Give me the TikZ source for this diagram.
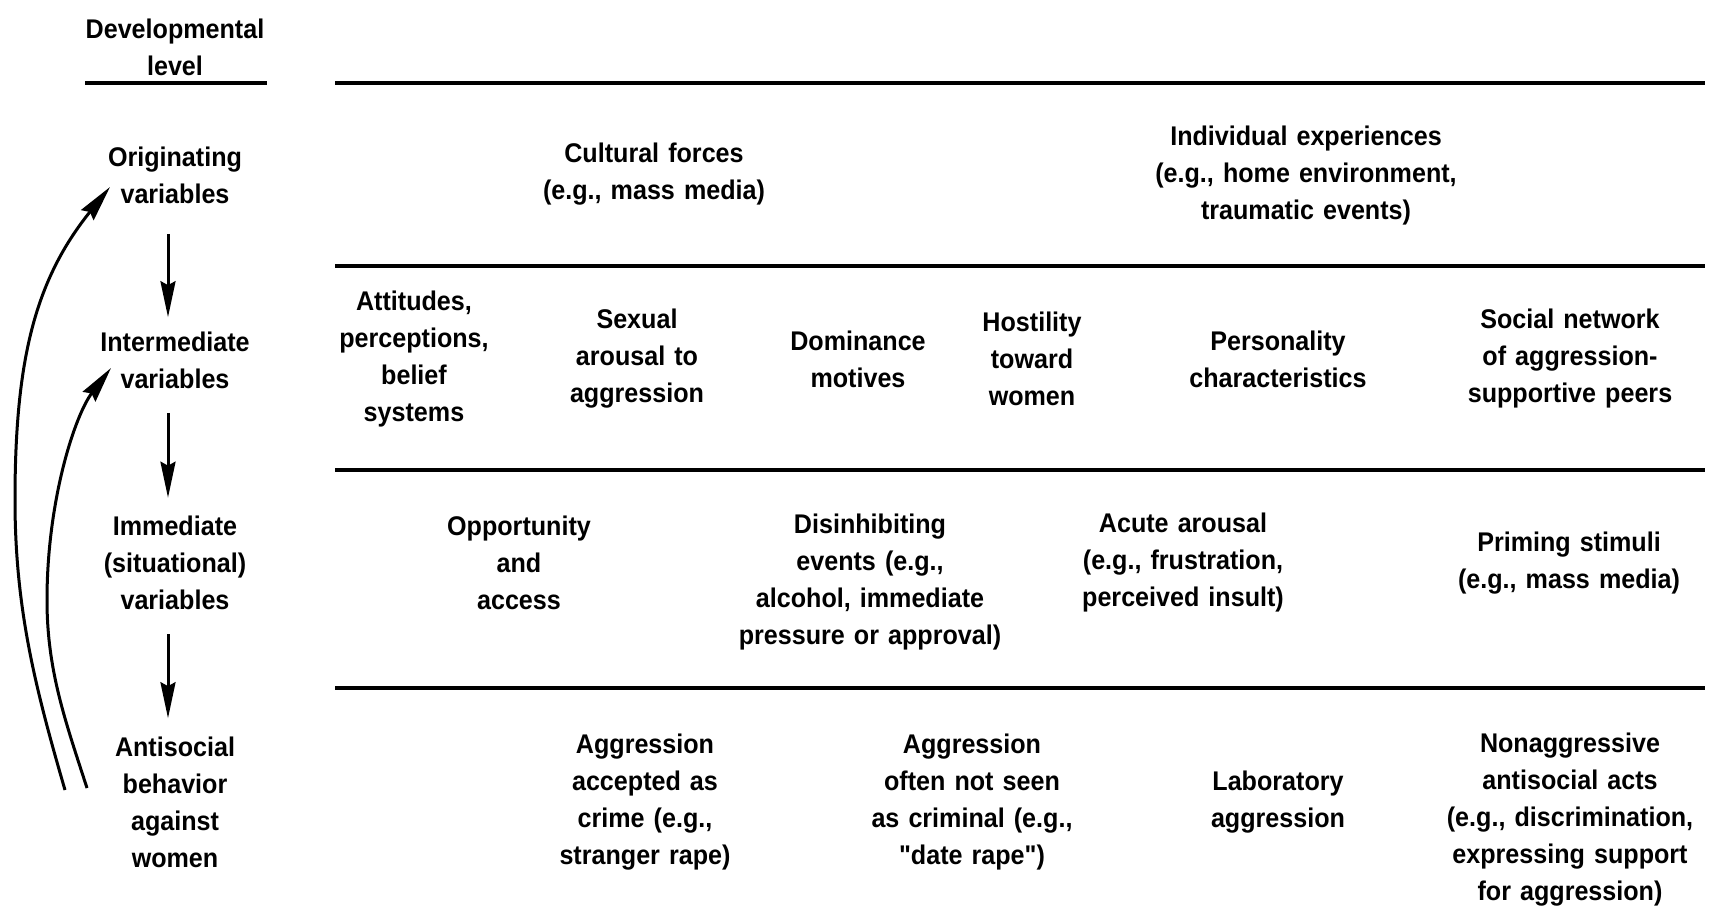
\documentclass[tikz,border=0pt]{standalone}
\usepackage{fontspec}
\setmainfont{Liberation Sans}[FakeStretch=0.93,WordSpace=1.3,Ligatures=TeXOff]
\usetikzlibrary{arrows.meta}
\begin{document}
\begin{tikzpicture}[x=0.5pt,y=-0.5pt,
  lbl/.style={align=center,inner sep=0pt,font=\fontsize{13.5pt}{18.5pt}\selectfont\bfseries},
  rulestyle/.style={line width=2pt},
  downarrow/.style={line width=1.5pt,-{Stealth[length=18pt,width=7.5pt,inset=2pt]}},
  backarrow/.style={line width=1.5pt,-{Stealth[length=18pt,width=8pt,inset=2pt]}}]
\path[use as bounding box,fill=white] (0,0) rectangle (1730,907);

% left column
\node[lbl] (hdr) at (175,47) {Developmental\\level};
\node[lbl] (orig) at (175,175) {Originating\\variables};
\node[lbl] (inter) at (175,360) {Intermediate\\variables};
\node[lbl] (imm) at (175,563) {Immediate\\(situational)\\variables};
\node[lbl] (anti) at (175,802) {Antisocial\\behavior\\against\\women};

\coordinate (ul) at (85,83); \coordinate (ur) at (267,83);
\draw[rulestyle] (ul) -- (ur);

% rules
\coordinate (r1l) at (335,83);  \coordinate (r1r) at (1705,83);
\coordinate (r2l) at (335,266); \coordinate (r2r) at (1705,266);
\coordinate (r3l) at (335,470); \coordinate (r3r) at (1705,470);
\coordinate (r4l) at (335,688); \coordinate (r4r) at (1705,688);
\draw[rulestyle] (r1l) -- (r1r);
\draw[rulestyle] (r2l) -- (r2r);
\draw[rulestyle] (r3l) -- (r3r);
\draw[rulestyle] (r4l) -- (r4r);

% vertical arrows
\draw[downarrow,shorten <=15pt,shorten >=7pt] ([xshift=-3.5pt]orig.south) -- ([xshift=-3.5pt]inter.north);
\draw[downarrow,shorten <=12pt,shorten >=9pt] ([xshift=-3.5pt]inter.south) -- ([xshift=-3.5pt]imm.north);
\draw[downarrow,shorten <=12pt,shorten >=9pt] ([xshift=-3.5pt]imm.south) -- ([xshift=-3.5pt]anti.north);

% feedback arrows
\coordinate (os) at (65,790); \coordinate (om) at (15,500); \coordinate (oe) at (110,187);
\coordinate (is) at (87,788); \coordinate (im) at (47,600); \coordinate (ie) at (111,368);
\draw[backarrow] (os) .. controls (36,690) and (15,610) .. (om)
  .. controls (15,360) and (35,280) .. (oe);
\draw[backarrow] (is) .. controls (65,720) and (47,670) .. (im)
  .. controls (47,500) and (75,415) .. (ie);

% row 1
\node[lbl] (cult) at (654,174) {Cultural forces\\(e.g., mass media)};
\node[lbl] (indiv) at (1306,176) {Individual experiences\\(e.g., home environment,\\traumatic events)};

% row 2
\node[lbl] (att) at (414,359) {Attitudes,\\perceptions,\\belief\\systems};
\node[lbl] (sex) at (637,359) {Sexual\\arousal to\\aggression};
\node[lbl] (dom) at (858,359) {Dominance\\motives};
\node[lbl] (host) at (1032,359) {Hostility\\toward\\women};
\node[lbl] (pers) at (1278,359) {Personality\\characteristics};
\node[lbl] (soc) at (1570,359) {Social network\\of aggression-\\supportive peers};

% row 3
\node[lbl] (opp) at (519,563) {Opportunity\\and\\access};
\node[lbl] (dis) at (870,582) {Disinhibiting\\events (e.g.,\\alcohol, immediate\\pressure or approval)};
\node[lbl] (acute) at (1183,563) {Acute arousal\\(e.g., frustration,\\perceived insult)};
\node[lbl] (prim) at (1569,563) {Priming stimuli\\(e.g., mass media)};

% row 4
\node[lbl] (crime) at (645,802) {Aggression\\accepted as\\crime (e.g.,\\stranger rape)};
\node[lbl] (notcrime) at (972,802) {Aggression\\often not seen\\as criminal (e.g.,\\"date rape")};
\node[lbl] (lab) at (1278,802) {Laboratory\\aggression};
\node[lbl] (nonagg) at (1570,820) {Nonaggressive\\antisocial acts\\(e.g., discrimination,\\expressing support\\for aggression)};
\end{tikzpicture}
\end{document}
